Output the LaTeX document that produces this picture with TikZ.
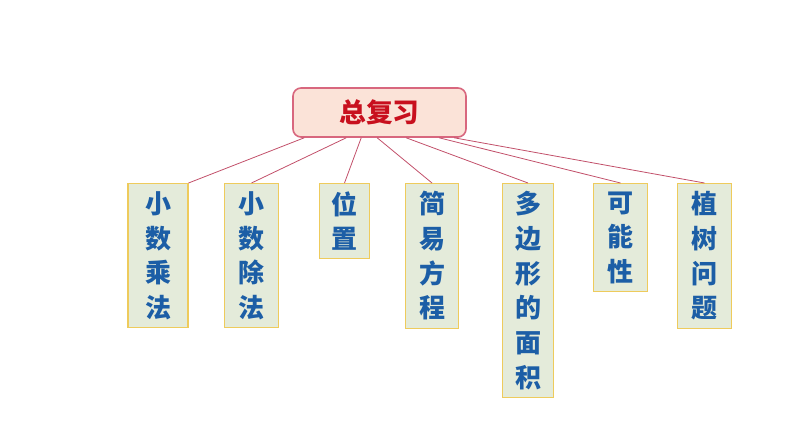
\documentclass[tikz,border=0pt]{standalone}
\usepackage{fontspec}
\newfontfamily\cjk{Noto Sans CJK SC}
\definecolor{rootfill}{HTML}{FBE3D8}
\definecolor{rootline}{HTML}{D8677E}
\definecolor{roottext}{HTML}{C8101E}
\definecolor{topicfill}{HTML}{E4EBDA}
\definecolor{topicline}{HTML}{EECB5C}
\definecolor{topictext}{HTML}{1C5EA6}
\definecolor{linkcolor}{HTML}{C2506A}

\begin{document}
\begin{tikzpicture}[x=0.75pt,y=-0.75pt,
  root/.style={draw=rootline, fill=rootfill, line width=1.2pt, rounded corners=6pt,
    minimum width=129.75pt, minimum height=36.75pt, text=roottext,
    font=\cjk\bfseries\fontsize{20}{20}\selectfont},
  topic/.style={draw=topicline, fill=topicfill, line width=0.8pt, anchor=north,
    minimum width=40pt, inner ysep=6pt, align=center, text=topictext,
    font=\cjk\bfseries\fontsize{19.5}{26}\selectfont},
  link/.style={draw=linkcolor, line width=0.6pt}]
  \useasboundingbox (0,0) rectangle (794,447);

  \node[root](review) at (379.5,112.5) {总复习};

  \node[topic, minimum width=45pt](mult)  at (158,183)   {小\\数\\乘\\法};
  \node[topic](divi)  at (251.5,183) {小\\数\\除\\法};
  \node[topic, minimum width=37pt](place) at (344.5,183) {位\\置};
  \node[topic](equa)  at (432,183)   {简\\易\\方\\程};
  \node[topic, minimum width=38pt](area)  at (528,183)   {多\\边\\形\\的\\面\\积};
  \node[topic](chance) at (620.5,183) {可\\能\\性};
  \node[topic](trees) at (704.5,183) {植\\树\\问\\题};

  \coordinate (r1) at ([xshift=9pt]review.south west);
  \coordinate (r2) at ([xshift=40.5pt]review.south west);
  \coordinate (r3) at ([xshift=51.75pt]review.south west);
  \coordinate (r4) at ([xshift=63.75pt]review.south west);
  \coordinate (r5) at ([xshift=85.5pt]review.south west);
  \coordinate (r6) at ([xshift=110.25pt]review.south west);
  \coordinate (r7) at ([xshift=121.5pt]review.south west);

  \draw[link] (r1)--(mult.north east);
  \draw[link] (r2)--(divi.north);
  \draw[link] (r3)--(place.north);
  \draw[link] (r4)--(equa.north);
  \draw[link] (r5)--(area.north);
  \draw[link] (r6)--(chance.north);
  \draw[link] (r7)--(trees.north);
\end{tikzpicture}
\end{document}
